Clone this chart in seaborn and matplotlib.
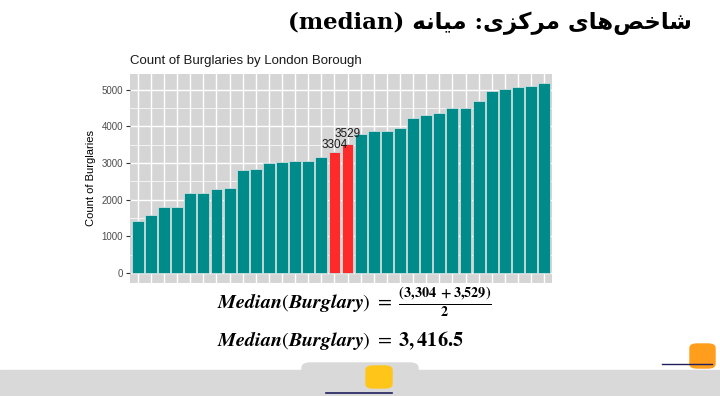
import matplotlib
matplotlib.use("Agg")
import matplotlib.pyplot as plt
import seaborn as sns
import pandas as pd
from matplotlib.ticker import MultipleLocator
from matplotlib.patches import Rectangle, FancyBboxPatch

# Burglary counts per borough, sorted ascending
burglaries = [1421, 1576, 1803, 1806, 2186, 2190, 2279, 2314, 2798, 2825,
              2997, 3033, 3042, 3060, 3153, 3304, 3529, 3790, 3880, 3885,
              3945, 4235, 4309, 4363, 4500, 4503, 4700, 4964, 5010, 5073,
              5092, 5183]
boroughs = [str(i) for i in range(1, len(burglaries) + 1)]
median_pair = [3304, 3529]
y_ticks = [0, 1000, 2000, 3000, 4000, 5000]

title_fa = "(median) " + "\ufeea\ufee7\ufe8e\ufbff\ufee3" + " :" + \
    "\ufbfc\ufeb0\ufb90\ufeae\ufee3" + " " + \
    "\ufbfc\ufe8e\ufeeb\ufeba\ufea7\ufe8e\ufeb7"
chart_title = "Count of Burglaries by London Borough"
y_title = "Count of Burglaries"
formula1 = r"$\mathbfit{Median}(\mathbfit{Burglary})\ =\ \frac{\mathbf{(3{,}304\ +3{,}529)}}{\mathbf{2}}$"
formula2 = r"$\mathbfit{Median}(\mathbfit{Burglary})\ =\ \mathbf{3,416.5}$"

df = pd.DataFrame({"borough": boroughs, "count": burglaries})
df["group"] = ["median" if v in median_pair else "other" for v in burglaries]

plt.rcParams["font.family"] = ["Liberation Sans", "DejaVu Sans"]
plt.rcParams["mathtext.fontset"] = "stix"

fig = plt.figure(figsize=(7.2, 3.96), dpi=100)
ax = fig.add_axes([130 / 720, 1 - 282.5 / 396, (552 - 130) / 720, (282.5 - 73.5) / 396])
ax.set_facecolor("#d5d5d5")

sns.barplot(data=df, x="borough", y="count", hue="group",
            palette={"median": "#ff2b2b", "other": "#008b8b"},
            saturation=1, width=0.9, edgecolor="#c9dede", linewidth=0.6,
            legend=False, ax=ax, zorder=3)

# value labels on the two middle bars
for i, v in enumerate(burglaries):
    if v in median_pair:
        lift = 20 if v == median_pair[0] else 110
        ax.text(i, v + lift, str(v), ha="center", va="bottom", fontsize=8.5,
                color="#1a1a1a", zorder=4)

ax.set_xlim(-0.6, len(burglaries) - 0.4)
ax.set_ylim(-259, 5442)
ax.set_yticks(y_ticks)
ax.yaxis.set_minor_locator(MultipleLocator(500))
ax.grid(True, which="major", color="white", linewidth=1.0, zorder=0)
ax.grid(True, which="minor", axis="y", color="white", linewidth=0.5, zorder=0)
ax.set_axisbelow(True)
ax.tick_params(axis="x", length=0, labelbottom=False)
ax.tick_params(axis="y", which="major", length=3, color="#333333",
               labelsize=7, labelcolor="#4d4d4d", pad=2)
ax.tick_params(axis="y", which="minor", length=0)
for s in ax.spines.values():
    s.set_visible(False)
ax.set_xlabel("")
ax.set_ylabel(y_title, fontsize=8, color="black", labelpad=4)
ax.set_title(chart_title, loc="left", fontsize=9.5, color="#1a1a1a", pad=7)

# slide title
fig.text(692 / 720, 1 - 23 / 396, title_fa, ha="right", va="center",
         fontsize=16.5, fontweight="bold", family=["DejaVu Serif", "DejaVu Sans"])

# formulas
fig.text(217 / 720, 1 - 302 / 396, formula1, ha="left", va="center", fontsize=14.5)
fig.text(217 / 720, 1 - 341 / 396, formula2, ha="left", va="center", fontsize=14.5)

# footer band and logo tab
fig.patches.append(Rectangle((0, 0), 1, 26 / 396, transform=fig.transFigure,
                             color="#d9d9d9", zorder=0))
fig.patches.append(FancyBboxPatch((302 / 720, 0), 116 / 720, 33 / 396,
                                  boxstyle="round,pad=0,rounding_size=0.012",
                                  transform=fig.transFigure, color="#d9d9d9", zorder=0))

# logos (simple shapes)
fig.patches.append(FancyBboxPatch((366 / 720, 1 - 388 / 396), 26 / 720, 22 / 396,
                                  boxstyle="round,pad=0,rounding_size=0.01",
                                  transform=fig.transFigure, color="#ffc619", zorder=1))
fig.add_artist(plt.Line2D([326 / 720, 392 / 720], [1 - 393 / 396] * 2,
                          transform=fig.transFigure, color="#1f1f5c", lw=1.2))
fig.patches.append(FancyBboxPatch((690 / 720, 1 - 368 / 396), 25 / 720, 24 / 396,
                                  boxstyle="round,pad=0,rounding_size=0.01",
                                  transform=fig.transFigure, color="#ff9d1c", zorder=1))
fig.add_artist(plt.Line2D([662 / 720, 712 / 720], [1 - 364 / 396] * 2,
                          transform=fig.transFigure, color="#1f1f5c", lw=1.0))

fig.savefig("out.png", dpi=100)
